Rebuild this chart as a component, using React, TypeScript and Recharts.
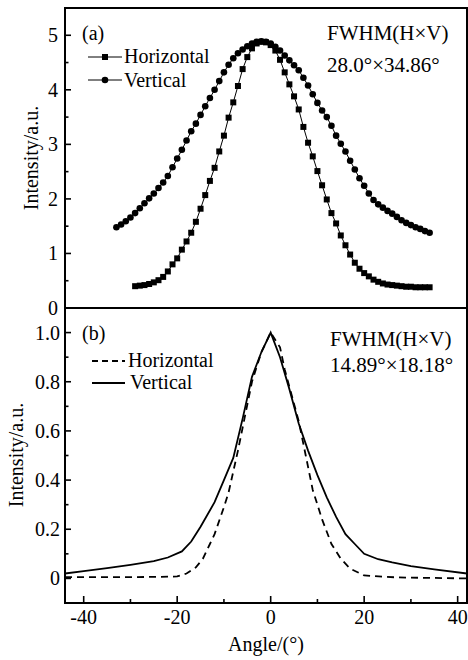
import React from 'react';
import { LineChart, Line, XAxis, YAxis, ReferenceArea } from 'recharts';

const FONT = '"Liberation Serif", "Times New Roman", serif';

// ---------- Panel (a): measured points ----------
const anglesHa = [
  -29, -28, -27, -26, -25, -24, -23, -22, -21, -20, -19, -18, -17, -16, -15, -14,
  -13, -12, -11, -10, -9, -8, -7, -6, -5, -4, -3, -2, -1, 0, 1, 2,
  3, 4, 5, 6, 7, 8, 9, 10, 11, 12, 13, 14, 15, 16, 17, 18,
  19, 20, 21, 22, 23, 24, 25, 26, 27, 28, 29, 30, 31, 32, 33, 34,
];
const intensityHa = [
  0.40, 0.41, 0.42, 0.44, 0.47, 0.51, 0.57, 0.67, 0.80, 0.91, 1.07, 1.22, 1.38, 1.58, 1.82, 2.07,
  2.33, 2.57, 2.87, 3.16, 3.49, 3.77, 4.07, 4.38, 4.60, 4.76, 4.85, 4.88, 4.87, 4.82, 4.72, 4.55,
  4.32, 4.10, 3.88, 3.64, 3.32, 3.03, 2.78, 2.51, 2.25, 1.99, 1.74, 1.55, 1.33, 1.15, 0.98, 0.83,
  0.72, 0.64, 0.58, 0.52, 0.48, 0.45, 0.43, 0.42, 0.41, 0.40, 0.39, 0.39, 0.38, 0.38, 0.38, 0.38,
];
const anglesVa = [
  -33, -32, -31, -30, -29, -28, -27, -26, -25, -24, -23, -22, -21, -20, -19, -18, -17,
  -16, -15, -14, -13, -12, -11, -10, -9, -8, -7, -6, -5, -4, -3, -2, -1,
  0, 1, 2, 3, 4, 5, 6, 7, 8, 9, 10, 11, 12, 13, 14, 15, 16,
  17, 18, 19, 20, 21, 22, 23, 24, 25, 26, 27, 28, 29, 30, 31, 32, 33, 34,
];
const intensityVa = [
  1.48, 1.53, 1.59, 1.66, 1.74, 1.83, 1.92, 2.01, 2.10, 2.20, 2.30, 2.42, 2.58, 2.74, 2.90, 3.07, 3.24,
  3.38, 3.54, 3.70, 3.85, 4.00, 4.16, 4.32, 4.46, 4.58, 4.67, 4.74, 4.80, 4.85, 4.88, 4.89, 4.88,
  4.85, 4.79, 4.72, 4.63, 4.54, 4.45, 4.36, 4.22, 4.08, 3.92, 3.76, 3.62, 3.50, 3.34, 3.16, 3.01, 2.87,
  2.70, 2.54, 2.38, 2.24, 2.10, 1.98, 1.90, 1.84, 1.78, 1.73, 1.67, 1.61, 1.56, 1.52, 1.48, 1.45, 1.41, 1.38,
];

// ---------- Panel (b): normalised curves ----------
const anglesHb = [
  -44, -35, -25, -20, -18, -16, -14.5, -13, -12, -10, -9, -7, -5.5, -4, -2, 0,
  2, 3, 5, 6, 7.5, 9, 11, 13, 15, 17, 20, 27, 42,
];
const intensityHb = [
  0.005, 0.005, 0.006, 0.008, 0.02, 0.045, 0.08, 0.14, 0.18, 0.29, 0.35, 0.52, 0.66, 0.80, 0.92, 1.0,
  0.94, 0.85, 0.71, 0.64, 0.50, 0.36, 0.24, 0.14, 0.08, 0.04, 0.012, 0.004, 0.0,
];
const anglesVb = [
  -44, -40, -35, -30, -25, -22, -19, -17, -15, -12, -10, -8, -6, -4, -2, 0,
  2, 4, 6, 8, 10, 12, 14, 16, 18, 20, 23, 26, 30, 35, 42,
];
const intensityVb = [
  0.02, 0.03, 0.042, 0.055, 0.07, 0.085, 0.11, 0.15, 0.21, 0.31, 0.40, 0.49, 0.65, 0.82, 0.92, 1.0,
  0.90, 0.77, 0.63, 0.52, 0.42, 0.33, 0.25, 0.18, 0.14, 0.10, 0.078, 0.065, 0.05, 0.037, 0.02,
];

// ---------- Axes ----------
const xDomain = [-44, 42];
const xTicks = [-40, -30, -20, -10, 0, 10, 20, 30, 40];
const xMajorTicks = [-40, -20, 0, 20, 40];
const xTickLabels = ['-40', '-20', '0', '20', '40'];

const yDomainA = [0, 5.5];
const yTicksA = [0, 0.5, 1, 1.5, 2, 2.5, 3, 3.5, 4, 4.5, 5];
const yMajorA = [0, 1, 2, 3, 4, 5];
const yLabelsA = ['0', '1', '2', '3', '4', '5'];

const yDomainB = [-0.1, 1.1];
const yTicksB = [0, 0.1, 0.2, 0.3, 0.4, 0.5, 0.6, 0.7, 0.8, 0.9, 1.0];
const yMajorB = [0, 0.2, 0.4, 0.6, 0.8, 1.0];
const yLabelsB = ['0', '0.2', '0.4', '0.6', '0.8', '1.0'];

const zip = (xs: number[], ys: number[]) => xs.map((x, i) => ({ x, y: ys[i] }));
const dataHa = zip(anglesHa, intensityHa);
const dataVa = zip(anglesVa, intensityVa);
const dataHb = zip(anglesHb, intensityHb);
const dataVb = zip(anglesVb, intensityVb);

const near = (a: number, b: number) => Math.abs(a - b) < 1e-6;

const makeXTick = (showLabel: boolean) => (p: any) => {
  const v = p.payload.value;
  const mi = xMajorTicks.findIndex((m) => near(m, v));
  const major = mi >= 0;
  const len = major ? 7 : 4;
  return (
    <g key={`xt-${v}`}>
      <line x1={p.x} x2={p.x} y1={p.y} y2={p.y - len} stroke="#000" strokeWidth={1.6} />
      {showLabel && major && (
        <text x={p.x} y={p.y + 21} textAnchor="middle" fontFamily={FONT} fontSize={20} fill="#000">
          {xTickLabels[mi]}
        </text>
      )}
    </g>
  );
};

const makeYTick = (majors: number[], labels: string[], labelX: number) => (p: any) => {
  const v = p.payload.value;
  const mi = majors.findIndex((m) => near(m, v));
  const major = mi >= 0;
  const len = major ? 6 : 3.5;
  return (
    <g key={`yt-${v}`}>
      <line x1={p.x} x2={p.x + len} y1={p.y} y2={p.y} stroke="#000" strokeWidth={1.6} />
      {major && (
        <text x={labelX} y={p.y + 7} textAnchor="end" fontFamily={FONT} fontSize={20} fill="#000">
          {labels[mi]}
        </text>
      )}
    </g>
  );
};

const SquareDot = (p: any) => (
  <rect key={`sq-${p.index}`} x={p.cx - 3} y={p.cy - 3} width={6} height={6} fill="#000" />
);
const CircleDot = (p: any) => (
  <circle key={`ci-${p.index}`} cx={p.cx} cy={p.cy} r={3.3} fill="#000" />
);

const txt = { fontFamily: FONT, fontSize: 20, fill: '#000' } as const;
const ann = { fontFamily: FONT, fontSize: 21, fill: '#000' } as const;

export default function App() {
  return (
    <div style={{ position: 'absolute', left: 0, top: 0, width: 468, height: 660, background: '#fff' }}>
      <div style={{ position: 'absolute', left: 0, top: 308 }}>
        <LineChart width={468} height={352} margin={{ top: 0, right: 1, bottom: 0, left: 25 }}>
          <XAxis
            type="number"
            dataKey="x"
            domain={xDomain}
            allowDataOverflow
            ticks={xTicks}
            interval={0}
            height={57}
            axisLine={false}
            tickLine={false}
            tickSize={0}
            tickMargin={0}
            tick={makeXTick(true)}
          />
          <YAxis
            type="number"
            domain={yDomainB}
            allowDataOverflow
            ticks={yTicksB}
            interval={0}
            width={40}
            axisLine={false}
            tickLine={false}
            tickSize={0}
            tickMargin={0}
            tick={makeYTick(yMajorB, yLabelsB, 60)}
          />
          <ReferenceArea x1={-44} x2={42} y1={-0.1} y2={1.1} fill="none" stroke="#000" strokeWidth={2} />
          <Line data={dataHb} dataKey="y" stroke="#000" strokeWidth={1.8} strokeDasharray="7 5" dot={false} isAnimationActive={false} />
          <Line data={dataVb} dataKey="y" stroke="#000" strokeWidth={1.8} dot={false} isAnimationActive={false} />
        </LineChart>
      </div>
      <div style={{ position: 'absolute', left: 0, top: 0 }}>
        <LineChart width={468} height={330} margin={{ top: 8, right: 1, bottom: 22, left: 25 }}>
          <XAxis
            type="number"
            dataKey="x"
            domain={xDomain}
            allowDataOverflow
            ticks={xTicks}
            interval={0}
            height={0}
            axisLine={false}
            tickLine={false}
            tickSize={0}
            tickMargin={0}
            tick={makeXTick(false)}
          />
          <YAxis
            type="number"
            domain={yDomainA}
            allowDataOverflow
            ticks={yTicksA}
            interval={0}
            width={40}
            axisLine={false}
            tickLine={false}
            tickSize={0}
            tickMargin={0}
            tick={makeYTick(yMajorA, yLabelsA, 58)}
          />
          <ReferenceArea x1={-44} x2={42} y1={0} y2={5.5} fill="none" stroke="#000" strokeWidth={2} />
          <Line data={dataHa} dataKey="y" stroke="#000" strokeWidth={1} dot={SquareDot} isAnimationActive={false} />
          <Line data={dataVa} dataKey="y" stroke="#000" strokeWidth={1} dot={CircleDot} isAnimationActive={false} />
        </LineChart>
      </div>
      <svg width={468} height={660} style={{ position: 'absolute', left: 0, top: 0, pointerEvents: 'none' }}>
        {/* panel (a) annotations */}
        <text x={82} y={40} {...txt}>(a)</text>
        <line x1={88} x2={122} y1={57} y2={57} stroke="#000" strokeWidth={1} />
        <rect x={102} y={54} width={6} height={6} fill="#000" />
        <text x={124} y={63} {...txt}>Horizontal</text>
        <line x1={88} x2={122} y1={80} y2={80} stroke="#000" strokeWidth={1} />
        <circle cx={105} cy={80} r={3.3} fill="#000" />
        <text x={124} y={87} {...txt}>Vertical</text>
        <text x={327} y={40} {...ann}>FWHM(H×V)</text>
        <text x={327} y={72} {...ann}>28.0°×34.86°</text>
        <text transform="translate(38,158) rotate(-90)" textAnchor="middle" {...txt}>Intensity/a.u.</text>

        {/* panel (b) annotations */}
        <text x={82} y={340} {...txt}>(b)</text>
        <line x1={92} x2={125} y1={361} y2={361} stroke="#000" strokeWidth={1.8} strokeDasharray="6 4" />
        <text x={128} y={367} {...txt}>Horizontal</text>
        <line x1={92} x2={125} y1={383} y2={383} stroke="#000" strokeWidth={2.2} />
        <text x={130} y={389} {...txt}>Vertical</text>
        <text x={330} y={346} {...ann}>FWHM(H×V)</text>
        <text x={330} y={372} {...ann}>14.89°×18.18°</text>
        <text transform="translate(23,455) rotate(-90)" textAnchor="middle" {...txt}>Intensity/a.u.</text>
        <text x={266} y={651} textAnchor="middle" {...txt}>Angle/(°)</text>
      </svg>
    </div>
  );
}
